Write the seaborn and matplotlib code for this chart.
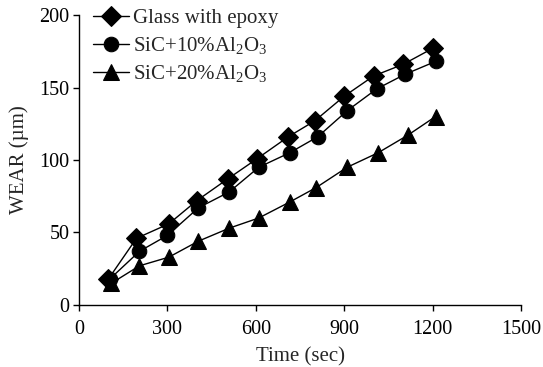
import matplotlib
matplotlib.use("Agg")
import matplotlib.pyplot as plt
import seaborn as sns
import pandas as pd

# Data
glass_x = [100, 195, 305, 400, 505, 605, 710, 800, 900, 1000, 1100, 1200]
glass_y = [18, 46, 56, 72, 87, 101, 116, 127, 144, 158, 166, 177]
sic10_x = [105, 205, 300, 405, 510, 610, 715, 810, 910, 1010, 1105, 1210]
sic10_y = [18, 37, 48, 67, 78, 95, 105, 116, 134, 149, 159, 168]
sic20_x = [110, 205, 305, 405, 510, 610, 715, 805, 910, 1015, 1115, 1210]
sic20_y = [15, 27, 33, 44, 53, 60, 71, 81, 95, 105, 117, 130]

labels = ["Glass with epoxy", r"SiC+10%Al$_2$O$_3$", r"SiC+20%Al$_2$O$_3$"]
markers = ["D", "o", "^"]
x_ticks = [0, 300, 600, 900, 1200, 1500]
y_ticks = [0, 50, 100, 150, 200]

frames = []
for lab, xs, ys in zip(labels, [glass_x, sic10_x, sic20_x], [glass_y, sic10_y, sic20_y]):
    frames.append(pd.DataFrame({"time": xs, "wear": ys, "series": lab}))
df = pd.concat(frames, ignore_index=True)

sns.set_style("ticks")
plt.rcParams["font.family"] = ["Liberation Serif", "DejaVu Serif"]
plt.rcParams["mathtext.fontset"] = "custom"
plt.rcParams["mathtext.rm"] = "Liberation Serif"
plt.rcParams["mathtext.it"] = "Liberation Serif:italic"

fig = plt.figure(figsize=(5.43, 3.67), dpi=100)
ax = fig.add_axes([0.1455, 0.169, 0.814, 0.79])

sizes = {"D": 10.5, "o": 10.5, "^": 11}
for lab, m in zip(labels, markers):
    sub = df[df["series"] == lab]
    sns.lineplot(data=sub, x="time", y="wear", ax=ax, color="black", linewidth=1.0,
                 marker=m, markersize=sizes[m], markeredgecolor="black",
                 markerfacecolor="black", label=lab, sort=False)

ax.set_xlim(0, 1500)
ax.set_ylim(0, 200)
ax.set_xticks(x_ticks)
ax.set_yticks(y_ticks)
ax.tick_params(axis="both", direction="out", length=4, width=1, labelsize=14.5, colors="black")
ax.tick_params(axis="x", pad=7)
ax.tick_params(axis="y", pad=3)
for s in ["top", "right"]:
    ax.spines[s].set_visible(False)
for s in ["left", "bottom"]:
    ax.spines[s].set_linewidth(1.0)
    ax.spines[s].set_color("black")
ax.set_xlabel("Time (sec)", fontsize=15, labelpad=6)
ax.set_ylabel("WEAR (µm)", fontsize=15, labelpad=7)

leg = ax.legend(loc="upper left", frameon=False, fontsize=15, handlelength=1.7,
                handletextpad=0.2, labelspacing=0.33, borderaxespad=0.0,
                bbox_to_anchor=(0.013, 1.05))

fig.savefig("out.png", dpi=100)
